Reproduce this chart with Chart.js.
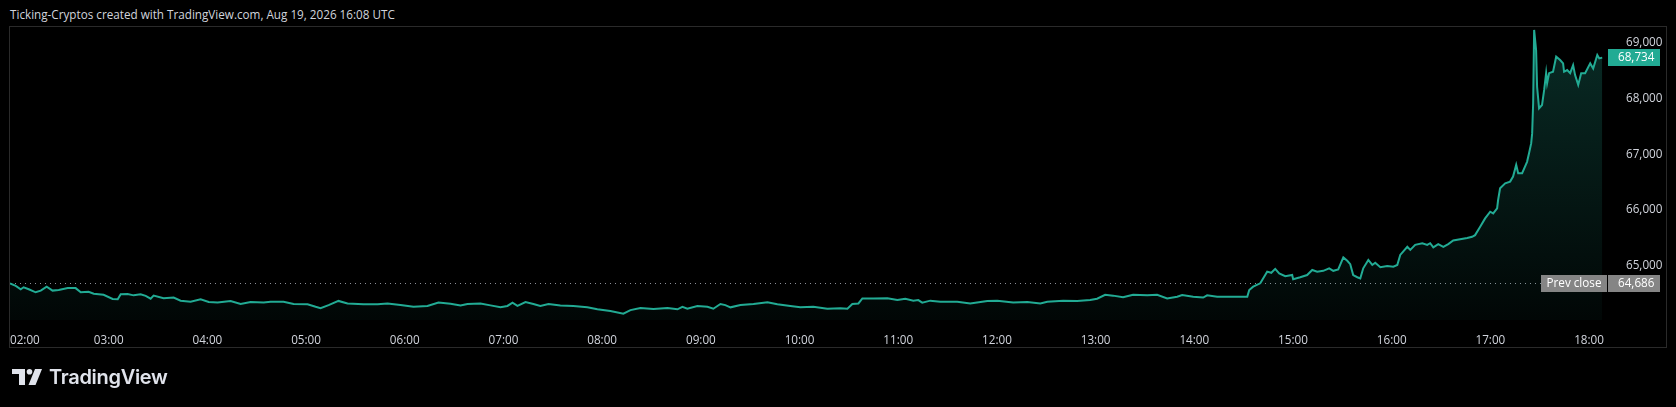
<!DOCTYPE html>
<html>
<head>
<meta charset="utf-8">
<title>Ticking-Cryptos</title>
<script src="https://cdn.jsdelivr.net/npm/chart.js"></script>
<style>
  html, body { margin: 0; padding: 0; background: #000; }
  body { width: 1676px; height: 407px; position: relative; overflow: hidden; font-family: "Open Sans", sans-serif; }
  .caption { position: absolute; left: 10px; top: 5px; font-size: 11.7px; line-height: 18px; color: #d1d4dc; white-space: nowrap; }
  .frame { position: absolute; left: 9px; top: 26px; width: 1656px; height: 320px; border: 1px solid #2a2a2a; }
  #chart { position: absolute; left: 0; top: 0; }
  .brand { position: absolute; left: 12px; top: 364px; height: 26px; display: flex; align-items: center; color: #e0e3eb; }
  .brand svg { display: block; }
  .brand span { font-family: Inter, sans-serif; font-weight: 600; font-size: 20px; margin-left: 7px; letter-spacing: -0.3px; }
</style>
</head>
<body>
  <div class="caption">Ticking-Cryptos created with TradingView.com, Aug 19, 2026 16:08 UTC</div>
  <div class="frame"></div>
  <canvas id="chart" width="1676" height="407"></canvas>
  <div class="brand">
    <svg width="30" height="16" viewBox="0 0 30 16">
      <path d="M0 0 H13 V16 H7 V5 H0 Z" fill="#e0e3eb"/>
      <circle cx="17.5" cy="2.8" r="2.8" fill="#e0e3eb"/>
      <path d="M23 0 H30 L23.5 16 H16.5 Z" fill="#e0e3eb"/>
    </svg>
    <span>TradingView</span>
  </div>
<script>
// minutes after 02:00 (local chart time)
const mins = [
  0, 3.5, 6.5, 8.3, 11.4, 15.6, 18.7, 22.3, 25.9, 29.6, 35.1, 39.9, 43, 47.8, 50.9, 56.9,
  62.4, 65.5, 67.3, 71.5, 75.2, 79.4, 82.5, 85.5, 87.3, 93.4, 99.5, 103.7, 109.8, 115.9,
  120.8, 126.2, 134.1, 140.2, 146.3, 154.2, 158.4, 166.3, 172.4, 180.9, 185.8, 188.8,
  193.7, 199.7, 205.2, 214.9, 223.5, 229.5, 237.4, 245.3, 253.8, 260.5, 267.8, 273.9,
  278.1, 286, 292.1, 298.2, 302.4, 305.5, 308.5, 313.4, 318.2, 322.4, 327.4, 334.6,
  342.5, 351, 357.1, 365, 372.9, 377.2, 383.3, 391.2, 399.7, 405.8, 408.8, 411.8,
  417.9, 424, 427.6, 431.9, 434.9, 438, 444.1, 452, 460.5, 466.5, 474.4, 480.5, 488.4,
  496.9, 504.8, 509.1, 512.1, 515.8, 518.2, 524.9, 533.4, 539.5, 544.3, 549.2, 552.2,
  554.6, 559.5, 565.6, 575.9, 583.8, 594.2, 600.2, 609.9, 618.5, 626.4, 630.6, 640.3,
  648.8, 656.7, 660.9, 665.8, 670.6, 676.7, 682.8, 691.4, 697.4, 703.5, 709.6, 712.6,
  719.3, 725.4, 727.8, 733.9, 741.8, 752.2, 753.4, 755.8, 760.1, 763.1, 764.3, 766.8,
  769.2, 771.6, 775.3, 779.5, 780.1, 784.4, 788.6, 791.7, 794.7, 798.4, 802, 804.5,
  807.5, 810.6, 813, 814.8, 816.6, 819.1, 820.9, 822.7, 825.8, 828.2, 830, 833.1,
  837.3, 841, 843.4, 845.2, 849.5, 851.3, 854.3, 858.6, 861.6, 863.4, 865.3, 868.3,
  871.4, 874.4, 877.4, 885.9, 888.9, 890.7, 893.8, 896.8, 899.9, 901.7, 904.1, 904.7,
  905.9, 909, 912, 913.8, 915.7, 916.9, 919.3, 922.3, 923.5, 924.8, 925.4, 926, 926.6,
  927.8, 928.4, 929.6, 931.4, 932.7, 933.9, 934.5, 935.7, 938.1, 940, 942.4, 944.2,
  944.8, 946.7, 948.5, 950.3, 951.5, 953.4, 955.2, 957.6, 960.7, 962.5, 965, 966.2, 968
];
const prices = [
  64686, 64640, 64580, 64615, 64580, 64525, 64555, 64625, 64555, 64565, 64600, 64600, 64525, 64535, 64500, 64480,
  64405, 64400, 64490, 64495, 64470, 64490, 64460, 64410, 64465, 64420, 64430, 64375, 64355, 64400,
  64350, 64340, 64370, 64315, 64350, 64340, 64355, 64355, 64315, 64310, 64265, 64240,
  64295, 64370, 64325, 64310, 64310, 64325, 64295, 64265, 64280, 64340, 64320, 64290,
  64315, 64325, 64290, 64255, 64280, 64340, 64280, 64350, 64315, 64280, 64315, 64290,
  64280, 64255, 64220, 64190, 64140, 64205, 64245, 64225, 64245, 64220, 64265, 64230,
  64280, 64265, 64230, 64315, 64295, 64255, 64295, 64315, 64345, 64310, 64280, 64255, 64265,
  64230, 64240, 64230, 64315, 64325, 64415, 64415, 64420, 64385, 64410, 64375, 64385,
  64340, 64375, 64355, 64355, 64325, 64370, 64375, 64340, 64350, 64325, 64355, 64375,
  64370, 64385, 64410, 64480, 64465, 64435, 64480, 64470, 64480, 64415, 64445, 64475,
  64445, 64430, 64470, 64445, 64445, 64445, 64565, 64625, 64686, 64835, 64895, 64875,
  64945, 64865, 64815, 64835, 64760, 64795, 64835, 64925, 64895, 64910, 64955, 64910,
  64935, 65150, 65090, 65030, 64835, 64795, 64775, 64955, 65105, 65015, 65055, 64975,
  64995, 64985, 65015, 65195, 65340, 65285, 65375, 65405, 65375, 65405, 65330, 65390,
  65340, 65390, 65455, 65500, 65520, 65550, 65700, 65850, 65970, 65940, 66030, 66180,
  66390, 66480, 66510, 66600, 66810, 66660, 66660, 66865, 67020, 67195, 67375, 67915, 69230,
  68870, 68210, 67825, 67885, 68155, 68455, 68275, 68455, 68480, 68750, 68690, 68630,
  68480, 68510, 68455, 68600, 68420, 68245, 68455, 68455, 68630, 68540, 68780, 68720, 68734
];
const hourLabels = [
  "02:00", "03:00", "04:00", "05:00", "06:00", "07:00", "08:00", "09:00", "10:00",
  "11:00", "12:00", "13:00", "14:00", "15:00", "16:00", "17:00", "18:00"
];
const priceTicks = [65000, 66000, 67000, 68000, 69000];
const prevClose = 64686;
const lastPrice = prices[prices.length - 1];

const teal = "#22ab94";
const fmt = v => v.toLocaleString("en-US");

Chart.defaults.font.family = "'Open Sans', sans-serif";
Chart.defaults.font.size = 11.7;
Chart.defaults.color = "#d1d4dc";

function tag(ctx, x, y, w, h, bg, text, tx, align) {
  ctx.fillStyle = bg;
  ctx.fillRect(x, Math.round(y - h / 2), w, h);
  ctx.fillStyle = "#ffffff";
  ctx.textAlign = align;
  ctx.textBaseline = "middle";
  ctx.fillText(text, tx, y);
}

const overlay = {
  id: "overlay",
  beforeDatasetsDraw(chart) {
    const { ctx, chartArea, scales } = chart;
    const py = Math.round(scales.y.getPixelForValue(prevClose)) + 0.5;
    ctx.save();
    ctx.strokeStyle = "#8c8f98";
    ctx.lineWidth = 1;
    ctx.setLineDash([1, 4]);
    ctx.beginPath();
    ctx.moveTo(chartArea.left, py);
    ctx.lineTo(chartArea.right - 66, py);
    ctx.stroke();
    ctx.restore();
  },
  afterDraw(chart) {
    const { ctx, chartArea, scales } = chart;
    const r = chartArea.right;
    ctx.save();
    ctx.font = "11.7px 'Open Sans', sans-serif";
    const ly = scales.y.getPixelForValue(lastPrice);
    tag(ctx, r + 1, ly, 52, 17, teal, fmt(lastPrice), r + 11, "left");
    const py = scales.y.getPixelForValue(prevClose);
    tag(ctx, r - 66, py, 66, 17, "#858585", "Prev close", r - 33, "center");
    tag(ctx, r + 1, py, 52, 17, "#858585", fmt(prevClose), r + 11, "left");
    ctx.restore();
  }
};

new Chart(document.getElementById("chart"), {
  type: "line",
  data: {
    datasets: [{
      data: mins.map((m, i) => ({ x: m, y: prices[i] })),
      borderColor: teal,
      borderWidth: 2,
      pointRadius: 0,
      tension: 0,
      fill: "start",
      backgroundColor: c => {
        const a = c.chart.chartArea;
        if (!a) return "transparent";
        const g = c.chart.ctx.createLinearGradient(0, a.top, 0, a.bottom);
        g.addColorStop(0, "rgba(34,171,148,0.26)");
        g.addColorStop(1, "rgba(34,171,148,0.04)");
        return g;
      }
    }]
  },
  options: {
    responsive: false,
    animation: false,
    events: [],
    layout: { padding: { left: 10, top: 27, right: 10, bottom: 60 } },
    plugins: { legend: { display: false }, tooltip: { enabled: false } },
    scales: {
      x: {
        type: "linear",
        min: 0,
        max: 970.9,
        grid: { display: false },
        border: { display: false },
        afterBuildTicks: axis => {
          axis.ticks = hourLabels.map((_, i) => ({ value: i * 60 })).concat([{ value: axis.max }]);
        },
        afterFit: axis => { axis.height = 27; },
        ticks: {
          autoSkip: false,
          maxRotation: 0,
          align: "inner",
          padding: 6,
          callback: (v, i) => hourLabels[i] || ""
        }
      },
      y: {
        position: "right",
        min: 64028,
        max: 69283,
        grid: { display: false },
        border: { display: false },
        afterBuildTicks: axis => {
          axis.ticks = priceTicks.map(v => ({ value: v }));
        },
        afterFit: axis => { axis.width = 59; },
        ticks: {
          padding: 11,
          callback: v => fmt(v)
        }
      }
    }
  },
  plugins: [overlay]
});
</script>
</body>
</html>
